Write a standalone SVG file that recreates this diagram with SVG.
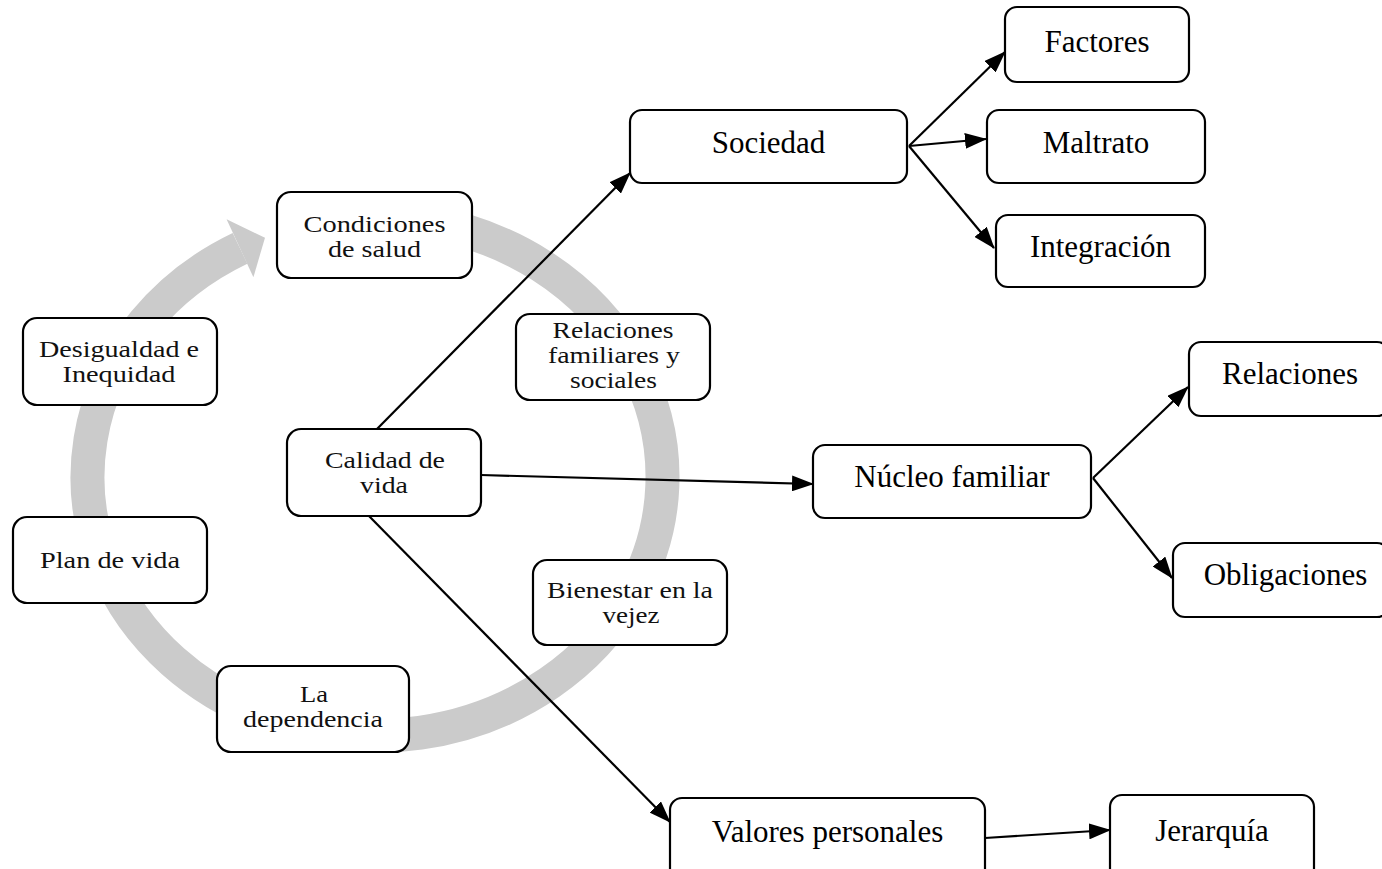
<svg xmlns="http://www.w3.org/2000/svg" width="1382" height="869" viewBox="0 0 1382 869">
  <defs>
    <marker id="arrow" viewBox="0 0 22 16" refX="21" refY="8" markerWidth="22" markerHeight="16" markerUnits="userSpaceOnUse" orient="auto">
      <path d="M0,0 L22,8 L0,16 Z" fill="#000"/>
    </marker>
    <style>
      .box { fill: #fff; stroke: #000; stroke-width: 2.2; }
      .lt { font-family: "Liberation Serif", "Times New Roman", serif; font-size: 24px; fill: #111; text-anchor: middle; }
      .rt { font-family: "Liberation Serif", "Times New Roman", serif; font-size: 31px; fill: #000; text-anchor: middle; }
      .link { fill: none; stroke: #000; stroke-width: 2.2; marker-end: url(#arrow); }
      .ring { fill: none; stroke: #cbcbcb; stroke-width: 34; }
    </style>
  </defs>
  <rect width="1382" height="869" fill="#fff"/>

  <!-- cycle arrow behind the inner nodes -->
  <g id="cycle">
    <path class="ring" d="M 424.9 221.9 A 287.5 259 0 1 1 240 248.3"/>
    <polygon points="265,237.7 253.4,277.3 226.6,219.3" fill="#cbcbcb"/>
  </g>

  <!-- connectors -->
  <g id="connectors">
    <line class="link" x1="377" y1="429" x2="630" y2="173"/>
    <line class="link" x1="481" y1="475" x2="813" y2="484"/>
    <line class="link" x1="368" y1="515" x2="670" y2="822"/>
    <line class="link" x1="909" y1="146" x2="1005" y2="52"/>
    <line class="link" x1="909" y1="146" x2="986" y2="139"/>
    <line class="link" x1="909" y1="146" x2="994" y2="248"/>
    <line class="link" x1="1093" y1="478" x2="1188" y2="387"/>
    <line class="link" x1="1093" y1="478" x2="1172" y2="578"/>
    <line class="link" x1="985" y1="838" x2="1110" y2="830"/>
  </g>

  <!-- inner cycle nodes -->
  <g id="condiciones">
    <rect class="box" x="277" y="192" width="195" height="86" rx="14"/>
    <text class="lt" x="374.5" y="232" textLength="142" lengthAdjust="spacingAndGlyphs">Condiciones</text>
    <text class="lt" x="374.5" y="257" textLength="93" lengthAdjust="spacingAndGlyphs">de salud</text>
  </g>
  <g id="desigualdad">
    <rect class="box" x="23" y="318" width="194" height="87" rx="14"/>
    <text class="lt" x="119" y="357" textLength="160" lengthAdjust="spacingAndGlyphs">Desigualdad e</text>
    <text class="lt" x="119" y="382" textLength="113" lengthAdjust="spacingAndGlyphs">Inequidad</text>
  </g>
  <g id="plan">
    <rect class="box" x="13" y="517" width="194" height="86" rx="14"/>
    <text class="lt" x="110" y="568" textLength="140" lengthAdjust="spacingAndGlyphs">Plan de vida</text>
  </g>
  <g id="calidad">
    <rect class="box" x="287" y="429" width="194" height="87" rx="14"/>
    <text class="lt" x="385" y="468" textLength="120" lengthAdjust="spacingAndGlyphs">Calidad de</text>
    <text class="lt" x="384" y="493" textLength="48" lengthAdjust="spacingAndGlyphs">vida</text>
  </g>
  <g id="dependencia">
    <rect class="box" x="217" y="666" width="192" height="86" rx="14"/>
    <text class="lt" x="314" y="702" textLength="28" lengthAdjust="spacingAndGlyphs">La</text>
    <text class="lt" x="313" y="727" textLength="140" lengthAdjust="spacingAndGlyphs">dependencia</text>
  </g>
  <g id="relaciones-fs">
    <rect class="box" x="516" y="314" width="194" height="86" rx="14"/>
    <text class="lt" x="613" y="338" textLength="121" lengthAdjust="spacingAndGlyphs">Relaciones</text>
    <text class="lt" x="614" y="363" textLength="132" lengthAdjust="spacingAndGlyphs">familiares y</text>
    <text class="lt" x="613.5" y="388" textLength="87" lengthAdjust="spacingAndGlyphs">sociales</text>
  </g>
  <g id="bienestar">
    <rect class="box" x="533" y="560" width="194" height="85" rx="14"/>
    <text class="lt" x="630" y="598" textLength="166" lengthAdjust="spacingAndGlyphs">Bienestar en la</text>
    <text class="lt" x="631" y="623" textLength="57" lengthAdjust="spacingAndGlyphs">vejez</text>
  </g>

  <!-- outer branch nodes -->
  <g id="sociedad">
    <rect class="box" x="630" y="110" width="277" height="73" rx="12"/>
    <text class="rt" x="768.5" y="153">Sociedad</text>
  </g>
  <g id="factores">
    <rect class="box" x="1005" y="7" width="184" height="75" rx="12"/>
    <text class="rt" x="1097" y="52">Factores</text>
  </g>
  <g id="maltrato">
    <rect class="box" x="987" y="110" width="218" height="73" rx="12"/>
    <text class="rt" x="1096" y="153">Maltrato</text>
  </g>
  <g id="integracion">
    <rect class="box" x="996" y="215" width="209" height="72" rx="12"/>
    <text class="rt" x="1100.5" y="257">Integración</text>
  </g>
  <g id="nucleo">
    <rect class="box" x="813" y="445" width="278" height="73" rx="12"/>
    <text class="rt" x="952" y="487">Núcleo familiar</text>
  </g>
  <g id="relaciones">
    <rect class="box" x="1189" y="342" width="200" height="74" rx="12"/>
    <text class="rt" x="1290" y="384">Relaciones</text>
  </g>
  <g id="obligaciones">
    <rect class="box" x="1173" y="543" width="216" height="74" rx="12"/>
    <text class="rt" x="1285.5" y="585">Obligaciones</text>
  </g>
  <g id="valores">
    <rect class="box" x="670" y="798" width="315" height="90" rx="12"/>
    <text class="rt" x="827.5" y="842">Valores personales</text>
  </g>
  <g id="jerarquia">
    <rect class="box" x="1110" y="795" width="204" height="90" rx="12"/>
    <text class="rt" x="1212" y="841">Jerarquía</text>
  </g>
</svg>
